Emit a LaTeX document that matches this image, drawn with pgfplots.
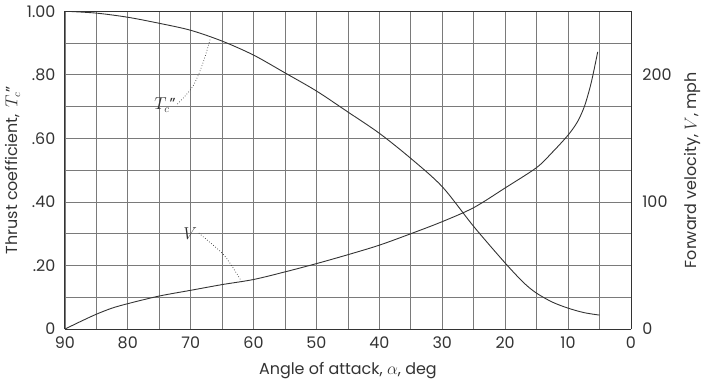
\documentclass[border=0pt]{standalone}
\usepackage{pgfplots}
\pgfplotsset{compat=1.18}
\usepackage{fontspec}
\setmainfont{Poppins}
\definecolor{ink}{HTML}{333333}
\definecolor{gridc}{HTML}{7A7A7A}

\begin{document}
\fontsize{16}{19}\selectfont
\begin{tikzpicture}
  % left axis: thrust coefficient
  \begin{axis}[
      scale only axis,
      width=568pt, height=319pt,
      x dir=reverse,
      xmin=0, xmax=90, ymin=0, ymax=1,
      xtick={0,10,...,90},
      minor xtick={5,15,...,85},
      ytick={0,0.2,0.4,0.6,0.8,1.0},
      yticklabels={0,.20,.40,.60,.80,1.00},
      minor ytick={0.1,0.3,0.5,0.7,0.9},
      grid=both,
      major grid style={gridc, line width=0.6pt},
      minor grid style={gridc, line width=0.6pt},
      axis line style={ink, line width=0.8pt},
      major tick length=0pt, minor tick length=0pt,
      tick label style={ink},
      /pgf/number format/assume math mode=true,
      xticklabel style={yshift=-2pt},
      yticklabel style={xshift=-4pt},
      axis y line*=left,
      xlabel={Angle of attack, $\alpha$, deg},
      ylabel={Thrust coefficient, \,$T_c$"},
      label style={ink},
      xlabel style={yshift=-3pt},
      ylabel style={yshift=-4pt},
    ]
    \addplot[ink, line width=0.9pt, smooth] coordinates {
      (90,1.000) (85,0.994) (80,0.981) (75,0.962) (70,0.940) (65,0.906)
      (60,0.862) (55,0.806) (50,0.749) (45,0.683) (40,0.616) (35,0.537)
      (30,0.448) (25,0.323) (20,0.208) (17,0.145) (15,0.113) (12.5,0.085)
      (10,0.066) (7.5,0.052) (5,0.044)
    };
    % leaders and labels
    \addplot[ink, dotted, line width=0.7pt, smooth] coordinates {
      (72.1,0.708) (69.7,0.762) (68.1,0.834) (66.9,0.912)
    };
    \addplot[ink, dotted, line width=0.7pt, smooth] coordinates {
      (68.7,0.302) (65.0,0.239) (63.4,0.197) (62.1,0.156)
    };
    \node[ink, anchor=east, inner sep=1pt] at (axis cs:72.2,0.705) {$T_c$"};
    \node[ink, anchor=east, inner sep=1pt] at (axis cs:68.8,0.300) {$V$};
  \end{axis}
  % right axis: forward velocity
  \begin{axis}[
      scale only axis,
      width=568pt, height=319pt,
      x dir=reverse,
      xmin=0, xmax=90, ymin=0, ymax=250,
      axis x line=none,
      axis y line*=right,
      ytick={0,100,200},
      axis line style={ink, line width=0.8pt},
      major tick length=0pt,
      tick label style={ink},
      /pgf/number format/assume math mode=true,
      yticklabel style={xshift=6pt},
      ylabel={Forward velocity, $V$, mph},
      ylabel style={ink, yshift=-2pt},
    ]
    \addplot[ink, line width=0.9pt, smooth] coordinates {
      (90,0) (87.5,6) (85,11.7) (82.5,16.5) (80,20) (75,26) (70,30.5)
      (65,35) (60,39) (55,45) (50,51.5) (45,58.5) (40,66) (35,75)
      (30,84.5) (25,95.5) (20,111) (15,127) (12.5,139) (10,152.5)
      (8.5,163) (7.4,175) (6.5,190) (5.9,203) (5.28,218)
    };
  \end{axis}
\end{tikzpicture}
\end{document}
